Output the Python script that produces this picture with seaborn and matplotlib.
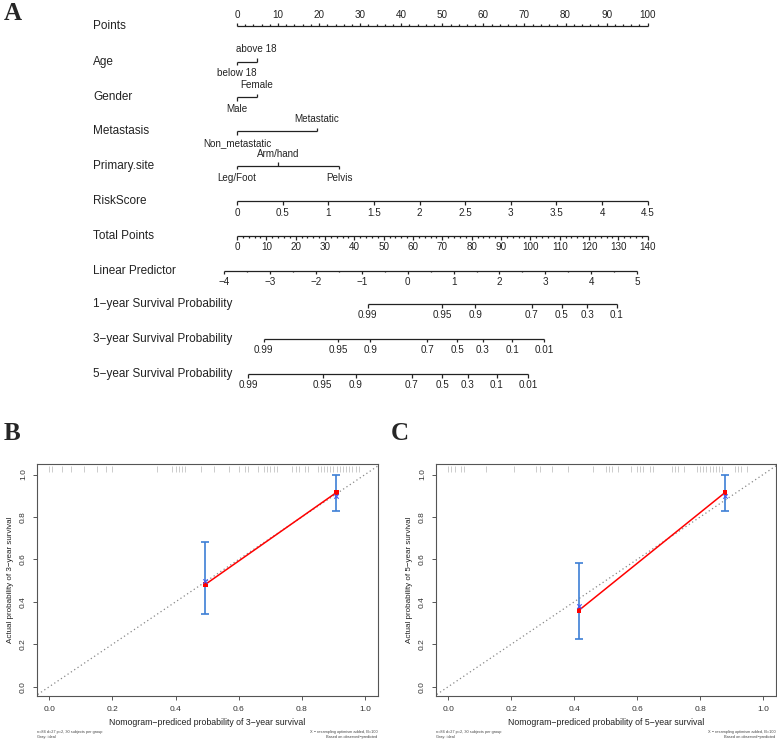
"""
Nomogram (A) and calibration curves for 3- and 5-year survival (B, C).
"""

import numpy as np
import pandas as pd
import matplotlib
matplotlib.use('Agg')
import matplotlib.pyplot as plt
import seaborn as sns

# Nomogram values (panel A), positions in points unless noted
points_major = list(range(0, 101, 10))
points_minor = [p for p in range(0, 101, 2) if p % 10 != 0]

age_levels = ['below 18', 'above 18']
age_points = [0, 4.8]
gender_levels = ['Male', 'Female']
gender_points = [0, 4.8]
metastasis_levels = ['Non_metastatic', 'Metastatic']
metastasis_points = [0, 19.4]
site_levels = ['Leg/Foot', 'Arm/hand', 'Pelvis']
site_points = [0, 10.0, 24.9]

risk_ticks = [0, 0.5, 1, 1.5, 2, 2.5, 3, 3.5, 4, 4.5]
risk_points_per_unit = 100 / 4.5

total_major = list(range(0, 141, 10))
total_minor = [t for t in range(0, 141, 2) if t % 10 != 0]

lp_major = list(range(-4, 6))
lp_minor = [v + 0.5 for v in range(-4, 5)]
lp_zero_total = 58.2       # total points at linear predictor 0
lp_total_per_unit = 15.63

surv_1y = [0.99, 0.95, 0.9, 0.7, 0.5, 0.3, 0.1]
surv_1y_total = [44.5, 70.0, 81.2, 100.4, 110.7, 119.4, 129.4]
surv_3y = [0.99, 0.95, 0.9, 0.7, 0.5, 0.3, 0.1, 0.01]
surv_3y_total = [9.1, 34.5, 45.5, 64.8, 75.1, 83.7, 93.9, 104.6]
surv_5y = [0.99, 0.95, 0.9, 0.7, 0.5, 0.3, 0.1, 0.01]
surv_5y_total = [3.85, 29.2, 40.4, 59.6, 69.9, 78.6, 88.6, 99.3]

# Calibration values (panels B and C)
cal3_pred = [0.494, 0.909]
cal3_obs = [0.482, 0.915]
cal3_lo = [0.342, 0.829]
cal3_hi = [0.680, 1.0]
cal3_corr = [0.499, 0.901]
rug3 = [0.0, 0.01, 0.04, 0.07, 0.11, 0.15, 0.18, 0.20, 0.34, 0.39, 0.40, 0.41,
        0.42, 0.43, 0.48, 0.52, 0.57, 0.60, 0.62, 0.63, 0.66, 0.68, 0.69, 0.70,
        0.71, 0.72, 0.77, 0.78, 0.79, 0.81, 0.82, 0.85, 0.86, 0.87, 0.88, 0.89,
        0.90, 0.91, 0.92, 0.93, 0.94, 0.95, 0.96, 0.97, 0.98]

cal5_pred = [0.415, 0.879]
cal5_obs = [0.360, 0.915]
cal5_lo = [0.223, 0.830]
cal5_hi = [0.581, 1.0]
cal5_corr = [0.381, 0.901]
rug5 = [0.0, 0.01, 0.02, 0.04, 0.05, 0.12, 0.21, 0.28, 0.29, 0.33, 0.38, 0.46,
        0.50, 0.51, 0.52, 0.54, 0.58, 0.60, 0.61, 0.62, 0.64, 0.65, 0.71, 0.72,
        0.73, 0.75, 0.79, 0.80, 0.81, 0.82, 0.83, 0.84, 0.85, 0.86, 0.87, 0.91,
        0.92, 0.93, 0.95]

sns.set_style('white')
plt.rcParams['font.family'] = ['Liberation Sans', 'DejaVu Sans']

W, H = 777, 739
fig = plt.figure(figsize=(W / 100, H / 100), dpi=100)

# ---------------- Panel A: nomogram ----------------
px0, px_per_pt = 237.0, 4.107
axA = fig.add_axes([0, 1 - 400 / H, 1, 400 / H])
axA.set_xlim(-px0 / px_per_pt, (W - px0) / px_per_pt)
axA.set_ylim(400, 0)
axA.axis('off')

line_kw = dict(color='#222222', lw=0.9)
lab_fs, tick_fs = 8.5, 7.1
row_x = (93 - px0) / px_per_pt
tot2pts = 100 / 140
tick_len = 3.5


def row_label(y, text):
    axA.text(row_x, y, text, fontsize=lab_fs, ha='left', va='center', color='#222222')


def scale_row(y, pos, labels, minor=(), above=False):
    allpos = list(pos) + list(minor)
    axA.hlines(y, min(allpos), max(allpos), **line_kw)
    d = -1 if above else 1
    axA.vlines(pos, y, y + d * tick_len, **line_kw)
    if len(minor):
        axA.vlines(minor, y, y + d * tick_len * 0.5, **line_kw)
    for p, t in zip(pos, labels):
        axA.text(p, y + d * 11.5, t, fontsize=tick_fs, ha='center', va='center',
                 color='#222222')


def cat_row(y, pos, levels):
    axA.hlines(y, min(pos), max(pos), **line_kw)
    order = np.argsort(pos)
    for k, i in enumerate(order):
        d = -1 if k % 2 else 1
        axA.vlines(pos[i], y, y + d * tick_len, **line_kw)
        axA.text(pos[i], y + d * 12, levels[i], fontsize=tick_fs, ha='center',
                 va='center', color='#222222')


def fmt(v):
    s = f'{v:g}'
    return s.replace('-', '\u2212')


rows_y = [26, 61.5, 97, 131, 165.7, 201, 236, 270.7, 304, 338.7, 374]

row_label(rows_y[0], 'Points')
scale_row(rows_y[0], points_major, [fmt(p) for p in points_major], points_minor, above=True)

row_label(rows_y[1], 'Age')
cat_row(rows_y[1], age_points, age_levels)
row_label(rows_y[2], 'Gender')
cat_row(rows_y[2], gender_points, gender_levels)
row_label(rows_y[3], 'Metastasis')
cat_row(rows_y[3], metastasis_points, metastasis_levels)
row_label(rows_y[4], 'Primary.site')
cat_row(rows_y[4], site_points, site_levels)

row_label(rows_y[5], 'RiskScore')
scale_row(rows_y[5], [r * risk_points_per_unit for r in risk_ticks], [fmt(r) for r in risk_ticks])

row_label(rows_y[6], 'Total Points')
scale_row(rows_y[6], [t * tot2pts for t in total_major], [fmt(t) for t in total_major],
          [t * tot2pts for t in total_minor])

row_label(rows_y[7], 'Linear Predictor')
lp_pos = lambda v: (lp_zero_total + v * lp_total_per_unit) * tot2pts
scale_row(rows_y[7], [lp_pos(v) for v in lp_major], [fmt(v) for v in lp_major],
          [lp_pos(v) for v in lp_minor])

for y, name, vals, tot in [(rows_y[8], '1\u2212year Survival Probability', surv_1y, surv_1y_total),
                           (rows_y[9], '3\u2212year Survival Probability', surv_3y, surv_3y_total),
                           (rows_y[10], '5\u2212year Survival Probability', surv_5y, surv_5y_total)]:
    row_label(y, name)
    scale_row(y, [t * tot2pts for t in tot], [fmt(v) for v in vals])

# ---------------- Panels B and C: calibration ----------------
def calib_panel(rect, pred, obs, lo, hi, corr, rug, years):
    ax = fig.add_axes(rect)
    ax.set_xlim(-0.04, 1.04)
    ax.set_ylim(-0.044, 1.052)
    # ideal line
    ax.plot([-0.1, 1.1], [-0.1, 1.1], color='#888888', lw=0.9, ls=(0, (1, 2.2)))
    # rug of predicted probabilities
    ax.vlines(rug, 0.965, 0.99, transform=ax.get_xaxis_transform(),
              color='#cccccc', lw=0.7)
    ax.errorbar(pred, obs, yerr=[np.array(obs) - np.array(lo), np.array(hi) - np.array(obs)],
                fmt='none', ecolor='#3d7fd6', elinewidth=1.2, capsize=3, capthick=1.2)
    df = pd.DataFrame({'pred': pred, 'obs': obs, 'corr': corr})
    sns.lineplot(data=df, x='pred', y='obs', color='red', lw=1.1, ax=ax)
    sns.scatterplot(data=df, x='pred', y='obs', color='red', marker='s', s=11,
                    edgecolor='none', ax=ax, zorder=5)
    sns.scatterplot(data=df, x='pred', y='corr', color='#4a5cf0', marker='x', s=10,
                    linewidth=0.8, ax=ax, zorder=5)
    ticks = [0, 0.2, 0.4, 0.6, 0.8, 1.0]
    ax.set_xticks(ticks)
    ax.set_xticklabels([f'{t:.1f}' for t in ticks])
    ax.set_yticks(ticks)
    ax.set_yticklabels([f'{t:.1f}' for t in ticks], rotation=90, va='center')
    ax.tick_params(axis='both', direction='out', length=3, width=0.7, colors='#555555',
                   labelsize=6, labelcolor='#333333', pad=4, bottom=True, left=True)
    for s in ax.spines.values():
        s.set_color('#555555')
        s.set_linewidth(0.8)
    ax.set_xlabel(f'Nomogram\u2212prediced probability of {years}\u2212year survival',
                  fontsize=6.3, color='#222222', labelpad=4)
    ax.set_ylabel(f'Actual probability of {years}\u2212year survival',
                  fontsize=5.8, color='#222222', labelpad=4)
    ax.text(0.0, -0.145, 'n=84 d=27 p=2, 30 subjects per group\nGray: ideal',
            transform=ax.transAxes, fontsize=2.8, ha='left', va='top', color='#444444',
            linespacing=1.3)
    ax.text(1.0, -0.145, 'X \u2212 resampling optimism added, B=100\nBased on observed\u2212predicted',
            transform=ax.transAxes, fontsize=2.8, ha='right', va='top', color='#444444',
            linespacing=1.3, multialignment='right')
    return ax


calib_panel([36.7 / W, 1 - 696 / H, 341 / W, 232.5 / H],
            cal3_pred, cal3_obs, cal3_lo, cal3_hi, cal3_corr, rug3, 3)
calib_panel([435.7 / W, 1 - 696 / H, 340 / W, 232.5 / H],
            cal5_pred, cal5_obs, cal5_lo, cal5_hi, cal5_corr, rug5, 5)

# Panel letters
for x, y, s in [(4, 13, 'A'), (4, 434, 'B'), (391, 434, 'C')]:
    fig.text(x / W, 1 - y / H, s, fontsize=18, fontweight='bold',
             family=['Liberation Serif', 'DejaVu Serif'], ha='left', va='center')

plt.savefig('out.png', dpi=100)
print('Saved: out.png')
